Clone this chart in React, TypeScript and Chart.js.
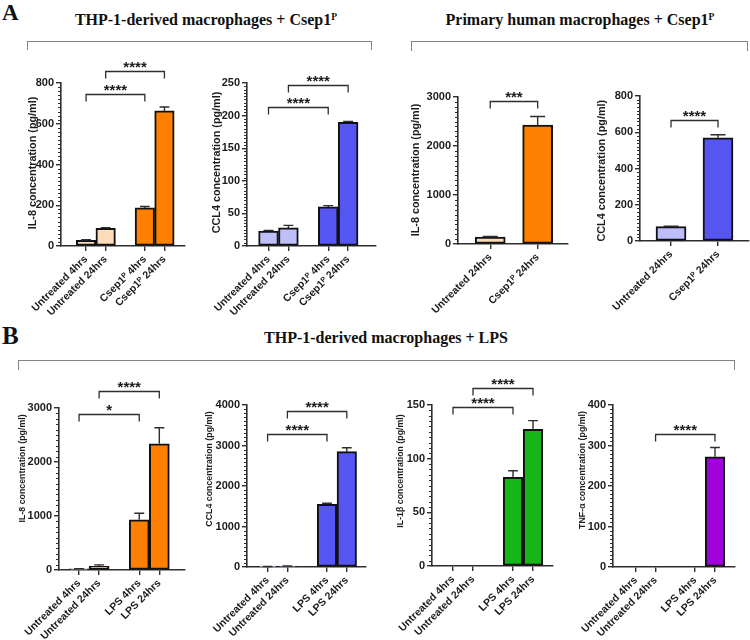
import React, { useEffect, useRef } from 'react';
import { Chart, registerables } from 'chart.js';

Chart.register(...registerables);

const SANS = "'Liberation Sans', Arial, 'DejaVu Sans', sans-serif";
const SERIF = "'Liberation Serif', 'Times New Roman', serif";
const INK = '#1c1c1c';
const AXIS = '#2e2e2e';
const BRACE = '#858585';

const PEACH = '#FDDCB9';
const ORANGE = '#FF8000';
const LILAC = '#BEBEFB';
const BLUE = '#5656F3';
const GREEN = '#17B517';
const VIOLET = '#A000DA';

// x-axis groups
const csepGroups4 = ['Untreated 4hrs', 'Untreated 24hrs', 'Csep1ᴾ 4hrs', 'Csep1ᴾ 24hrs'];
const csepGroups2 = ['Untreated 24hrs', 'Csep1ᴾ 24hrs'];
const lpsGroups = ['Untreated 4hrs', 'Untreated 24hrs', 'LPS 4hrs', 'LPS 24hrs'];

// THP-1-derived macrophages + Csep1P (pg/ml, mean and SEM)
const thpIl8Mean = [28, 87, 187, 663];
const thpIl8Sem = [3, 3, 7, 19];
const thpCcl4Mean = [23, 27.7, 60, 189.7];
const thpCcl4Sem = [1, 4, 2, 1.5];

// Primary human macrophages + Csep1P
const priIl8Mean = [142, 2427];
const priIl8Sem = [10, 175];
const priCcl4Mean = [79, 569];
const priCcl4Sem = [2, 17];

// THP-1-derived macrophages + LPS
const lpsIl8Mean = [20, 70, 930, 2338];
const lpsIl8Sem = [3, 25, 122, 297];
const lpsCcl4Mean = [10, 22, 1549, 2848];
const lpsCcl4Sem = [2, 3, 24, 98];
const lpsIl1bMean = [0, 0, 82.7, 127.4];
const lpsIl1bSem = [0, 0, 6.1, 8];
const lpsTnfMean = [0, 0, 0, 272];
const lpsTnfSem = [0, 0, 0, 23];

type Sig = { from: number; to: number; at: number; mark: string };

// significance brackets (bracket level in axis units)
const thpIl8Sig: Sig[] = [
  { from: 0, to: 2, at: 744, mark: '****' },
  { from: 1, to: 3, at: 859, mark: '****' },
];
const thpCcl4Sig: Sig[] = [
  { from: 0, to: 2, at: 213, mark: '****' },
  { from: 1, to: 3, at: 247, mark: '****' },
];
const priIl8Sig: Sig[] = [{ from: 0, to: 1, at: 2909, mark: '***' }];
const priCcl4Sig: Sig[] = [{ from: 0, to: 1, at: 666, mark: '****' }];
const lpsIl8Sig: Sig[] = [
  { from: 0, to: 2, at: 2881, mark: '*' },
  { from: 1, to: 3, at: 3313, mark: '****' },
];
const lpsCcl4Sig: Sig[] = [
  { from: 0, to: 2, at: 3285, mark: '****' },
  { from: 1, to: 3, at: 3859, mark: '****' },
];
const lpsIl1bSig: Sig[] = [
  { from: 0, to: 2, at: 148, mark: '****' },
  { from: 1, to: 3, at: 166, mark: '****' },
];
const lpsTnfSig: Sig[] = [{ from: 1, to: 3, at: 328, mark: '****' }];

type Frame = {
  axisX: number; endX: number; topY: number; zeroY: number;
  titleX: number; titleY: number; titleSize: number;
  xMin: number; xMax: number; bar: number;
};

type PanelSpec = {
  groups: string[]; mean: number[]; sem: number[]; colors: string[]; sig: Sig[];
  yTitle: string; yMax: number; yStep: number; yMinor: number; frame: Frame;
};

const panels: PanelSpec[] = [
  {
    groups: csepGroups4, mean: thpIl8Mean, sem: thpIl8Sem, sig: thpIl8Sig,
    colors: [PEACH, PEACH, ORANGE, ORANGE],
    yTitle: 'IL-8 concentration (pg/ml)', yMax: 800, yStep: 200, yMinor: 20,
    frame: { axisX: 61, endX: 185, topY: 83, zeroY: 245.7, titleX: 33, titleY: 163, titleSize: 10.8, xMin: -0.28, xMax: 6.05, bar: 19.5 },
  },
  {
    groups: csepGroups4, mean: thpCcl4Mean, sem: thpCcl4Sem, sig: thpCcl4Sig,
    colors: [LILAC, LILAC, BLUE, BLUE],
    yTitle: 'CCL4 concentration (pg/ml)', yMax: 250, yStep: 50, yMinor: 5,
    frame: { axisX: 246.7, endX: 376, topY: 82.5, zeroY: 245, titleX: 216.5, titleY: 162, titleSize: 10.8, xMin: -0.08, xMax: 6.4, bar: 19.8 },
  },
  {
    groups: csepGroups2, mean: priIl8Mean, sem: priIl8Sem, sig: priIl8Sig,
    colors: [PEACH, ORANGE],
    yTitle: 'IL-8 concentration (pg/ml)', yMax: 3000, yStep: 1000, yMinor: 100,
    frame: { axisX: 457.7, endX: 568, topY: 97, zeroY: 243.7, titleX: 415.8, titleY: 170, titleSize: 10.8, xMin: 0.32, xMax: 2.64, bar: 30 },
  },
  {
    groups: csepGroups2, mean: priCcl4Mean, sem: priCcl4Sem, sig: priCcl4Sig,
    colors: [LILAC, BLUE],
    yTitle: 'CCL4 concentration (pg/ml)', yMax: 800, yStep: 200, yMinor: 20,
    frame: { axisX: 640, endX: 749, topY: 96.3, zeroY: 241.7, titleX: 602.5, titleY: 171, titleSize: 10.8, xMin: 0.34, xMax: 2.66, bar: 30 },
  },
  {
    groups: lpsGroups, mean: lpsIl8Mean, sem: lpsIl8Sem, sig: lpsIl8Sig,
    colors: [PEACH, PEACH, ORANGE, ORANGE],
    yTitle: 'IL-8 concentration (pg/ml)', yMax: 3000, yStep: 1000, yMinor: 100,
    frame: { axisX: 59.3, endX: 185, topY: 407.6, zeroY: 569.5, titleX: 22.5, titleY: 468, titleSize: 8.8, xMin: 0, xMax: 6.28, bar: 20 },
  },
  {
    groups: lpsGroups, mean: lpsCcl4Mean, sem: lpsCcl4Sem, sig: lpsCcl4Sig,
    colors: [LILAC, LILAC, BLUE, BLUE],
    yTitle: 'CCL4 concentration (pg/ml)', yMax: 4000, yStep: 1000, yMinor: 100,
    frame: { axisX: 246.7, endX: 366, topY: 405, zeroY: 567.3, titleX: 208.8, titleY: 469, titleSize: 8.8, xMin: -0.04, xMax: 5.97, bar: 19.5 },
  },
  {
    groups: lpsGroups, mean: lpsIl1bMean, sem: lpsIl1bSem, sig: lpsIl1bSig,
    colors: [GREEN, GREEN, GREEN, GREEN],
    yTitle: 'IL-1β concentration (pg/ml)', yMax: 150, yStep: 50, yMinor: 5,
    frame: { axisX: 431.7, endX: 552.7, topY: 405, zeroY: 566, titleX: 400.5, titleY: 471, titleSize: 8.8, xMin: -0.05, xMax: 6.0, bar: 19.5 },
  },
  {
    groups: lpsGroups, mean: lpsTnfMean, sem: lpsTnfSem, sig: lpsTnfSig,
    colors: [VIOLET, VIOLET, VIOLET, VIOLET],
    yTitle: 'TNF-α concentration (pg/ml)', yMax: 400, yStep: 100, yMinor: 10,
    frame: { axisX: 613.3, endX: 735, topY: 405, zeroY: 566.7, titleX: 582.5, titleY: 470, titleSize: 8.8, xMin: -0.15, xMax: 6.01, bar: 19.5 },
  },
];

// bar slots: groups come in pairs, with one empty slot between the pairs
const slotsFor = (n: number) =>
  Array.from({ length: n }, (_, i) => i + 1 + (n > 2 && i >= n / 2 ? 1 : 0));

const Y_AXIS_W = 50;
const PAD_L = 40;
const PAD_T = 40;
const PAD_R = 6;
const X_AXIS_H = 92;

function overlay(spec: PanelSpec, slots: number[], origin: { x: number; y: number }) {
  return {
    id: 'overlay',
    afterDatasetsDraw(chart: any) {
      const { ctx } = chart;
      const xs = chart.scales.x;
      const ys = chart.scales.y;
      const axisX = chart.chartArea.left;
      ctx.save();
      ctx.strokeStyle = AXIS;

      // minor ticks on the value axis
      ctx.lineWidth = 1;
      const count = Math.round(spec.yMax / spec.yMinor);
      const per = Math.round(spec.yStep / spec.yMinor);
      for (let k = 1; k < count; k++) {
        if (k % per === 0) continue;
        const y = Math.round(ys.getPixelForValue(k * spec.yMinor)) + 0.5;
        ctx.beginPath();
        ctx.moveTo(axisX - 3, y);
        ctx.lineTo(axisX, y);
        ctx.stroke();
      }

      // SEM error bars (upper only)
      ctx.lineWidth = 1.4;
      const cap = spec.frame.bar * 0.5;
      spec.mean.forEach((m, i) => {
        const e = spec.sem[i];
        if (!e) return;
        const x = xs.getPixelForValue(slots[i]);
        const y0 = ys.getPixelForValue(m);
        const y1 = ys.getPixelForValue(m + e);
        ctx.beginPath();
        ctx.moveTo(x, y0);
        ctx.lineTo(x, y1);
        ctx.moveTo(x - cap / 2, y1);
        ctx.lineTo(x + cap / 2, y1);
        ctx.stroke();
      });

      // significance brackets
      ctx.lineWidth = 1.3;
      ctx.fillStyle = INK;
      ctx.font = `bold 15px ${SANS}`;
      ctx.textAlign = 'center';
      ctx.textBaseline = 'alphabetic';
      spec.sig.forEach((s) => {
        const x1 = xs.getPixelForValue(slots[s.from]);
        const x2 = xs.getPixelForValue(slots[s.to]);
        const y = Math.round(ys.getPixelForValue(s.at)) + 0.5;
        ctx.beginPath();
        ctx.moveTo(x1, y + 7);
        ctx.lineTo(x1, y);
        ctx.lineTo(x2, y);
        ctx.lineTo(x2, y + 7);
        ctx.stroke();
        ctx.fillText(s.mark, (x1 + x2) / 2, y + 0.5);
      });

      // value-axis title
      const f = spec.frame;
      ctx.translate(f.titleX - origin.x, f.titleY - origin.y);
      ctx.rotate(-Math.PI / 2);
      ctx.font = `bold ${f.titleSize}px ${SANS}`;
      ctx.textBaseline = 'middle';
      ctx.fillText(spec.yTitle, 0, 0);
      ctx.restore();
    },
  };
}

function Panel({ spec }: { spec: PanelSpec }) {
  const ref = useRef<HTMLCanvasElement>(null);
  const f = spec.frame;
  const canvasLeft = f.axisX - Y_AXIS_W - PAD_L;
  const canvasTop = f.topY - PAD_T;
  const width = Math.round(f.endX + PAD_R - canvasLeft);
  const height = Math.round(f.zeroY + X_AXIS_H - canvasTop);

  useEffect(() => {
    const slots = slotsFor(spec.groups.length);
    const tickFont = { family: SANS, size: 11, weight: 'bold' as const };
    const chart = new Chart(ref.current as HTMLCanvasElement, {
      type: 'bar',
      data: {
        datasets: [
          {
            data: spec.mean.map((v, i) => ({ x: slots[i], y: v })),
            backgroundColor: spec.colors,
            borderColor: '#111',
            borderWidth: 2,
            borderSkipped: false,
            barThickness: f.bar,
          } as any,
        ],
      },
      options: {
        animation: false,
        responsive: false,
        maintainAspectRatio: false,
        devicePixelRatio: 1,
        events: [],
        layout: { padding: { left: PAD_L, top: PAD_T, right: PAD_R, bottom: 0 } },
        plugins: { legend: { display: false }, tooltip: { enabled: false } },
        scales: {
          x: {
            type: 'linear',
            min: f.xMin,
            max: f.xMax,
            offset: false,
            afterBuildTicks: (s: any) => {
              s.ticks = slots.map((v) => ({ value: v }));
            },
            afterFit: (s: any) => {
              s.height = X_AXIS_H;
              s.paddingLeft = 0;
              s.paddingRight = 0;
            },
            ticks: {
              autoSkip: false,
              minRotation: 45,
              maxRotation: 45,
              padding: 2,
              color: INK,
              font: { family: SANS, size: 10.5, weight: 'bold' },
              callback: (_v: any, i: number) => spec.groups[i],
            },
            grid: { offset: false, drawOnChartArea: false, drawTicks: true, tickLength: 5, color: AXIS, lineWidth: 1.4 },
            border: { display: true, color: AXIS, width: 1.6 },
          } as any,
          y: {
            min: 0,
            max: spec.yMax,
            afterFit: (s: any) => {
              s.width = Y_AXIS_W;
              s.paddingTop = 0;
              s.paddingBottom = 0;
            },
            ticks: {
              stepSize: spec.yStep,
              padding: 2,
              color: INK,
              font: tickFont,
              callback: (v: any) => String(v),
            },
            grid: { drawOnChartArea: false, drawTicks: true, tickLength: 5, color: AXIS, lineWidth: 1.4 },
            border: { display: true, color: AXIS, width: 1.6 },
          } as any,
        },
      },
      plugins: [overlay(spec, slots, { x: canvasLeft, y: canvasTop })],
    });
    return () => chart.destroy();
  }, []);

  return (
    <canvas
      ref={ref}
      width={width}
      height={height}
      style={{ position: 'absolute', left: canvasLeft, top: canvasTop, width, height }}
    />
  );
}

function Brace({ left, right, y, drop }: { left: number; right: number; y: number; drop: number }) {
  return (
    <div
      style={{
        position: 'absolute',
        left,
        top: y,
        width: right - left,
        height: drop,
        boxSizing: 'border-box',
        borderTop: `1.5px solid ${BRACE}`,
        borderLeft: `1.5px solid ${BRACE}`,
        borderRight: `1.5px solid ${BRACE}`,
      }}
    />
  );
}

const heading: React.CSSProperties = {
  position: 'absolute',
  width: 400,
  textAlign: 'center',
  fontFamily: SERIF,
  fontWeight: 'bold',
  fontSize: 16,
  lineHeight: 1,
  color: '#111',
  whiteSpace: 'nowrap',
};

const sup: React.CSSProperties = {
  fontSize: '0.6em',
  position: 'relative',
  top: '-0.5em',
  lineHeight: 0,
};

const letter: React.CSSProperties = {
  position: 'absolute',
  fontFamily: SERIF,
  fontWeight: 'bold',
  lineHeight: 1,
  color: '#111',
};

export default function App() {
  return (
    <div
      style={{
        position: 'fixed',
        left: 0,
        top: 0,
        width: 750,
        height: 640,
        background: '#fff',
        overflow: 'hidden',
      }}
    >
      <div style={{ ...letter, left: 2, top: 1, fontSize: 23 }}>A</div>
      <div style={{ ...letter, left: 2, top: 323, fontSize: 25 }}>B</div>

      <div style={{ ...heading, left: 206 - 200, top: 12 }}>
        THP-1-derived macrophages + Csep1<span style={sup}>P</span>
      </div>
      <div style={{ ...heading, left: 580 - 200, top: 12 }}>
        Primary human macrophages + Csep1<span style={sup}>P</span>
      </div>
      <div style={{ ...heading, left: 386 - 200, top: 330 }}>THP-1-derived macrophages + LPS</div>

      <Brace left={27} right={372} y={41} drop={9} />
      <Brace left={411} right={748} y={41} drop={10} />
      <Brace left={18} right={735} y={360} drop={10} />

      {panels.map((p, i) => (
        <Panel key={i} spec={p} />
      ))}
    </div>
  );
}
